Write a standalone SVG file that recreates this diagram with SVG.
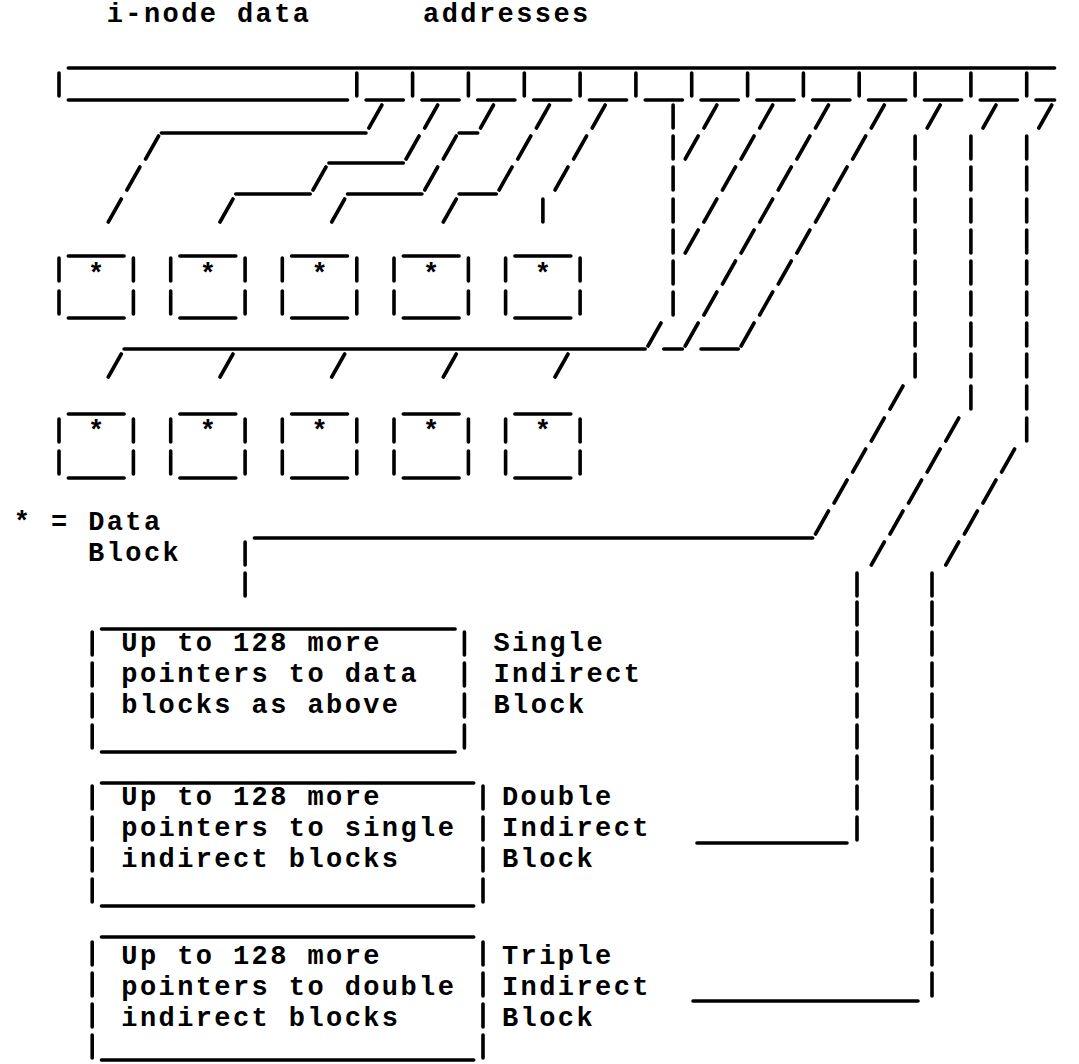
<svg xmlns="http://www.w3.org/2000/svg" width="1079" height="1064" viewBox="0 0 1079 1064">
<style>
.ln{stroke:#000;stroke-width:3.6;stroke-linecap:round;fill:none}
.t{font-family:"Liberation Mono","DejaVu Sans Mono",monospace;font-weight:bold;font-size:27px;letter-spacing:2.41px;fill:#000}
.s{font-family:"Liberation Mono","DejaVu Sans Mono",monospace;font-weight:bold;font-size:27px;fill:#000;text-anchor:middle}
</style>
<rect width="1079" height="1064" fill="#fff"/>
<g id="title">
<text class="t" x="106.7" y="22">i-node data</text>
<text class="t" x="423.1" y="22">addresses</text>
</g>
<g id="inode-table">
<path class="ln" d="M68.3,68H1054.6 M59,73v23 M68.3,100H347.5 M356.8,73v23 M366.1,100H403.3 M412.6,73v23 M421.9,100H459.1 M468.4,73v23 M477.7,100H514.9 M524.3,73v23 M533.6,100H570.8 M580.1,73v23 M589.4,100H626.6 M635.9,73v23 M645.2,100H682.4 M691.7,73v23 M701,100H738.3 M747.6,73v23 M756.9,100H794.1 M803.4,73v23 M812.7,100H849.9 M859.2,73v23 M868.5,100H905.8 M915.1,73v23 M924.4,100H961.6 M970.9,73v23 M980.2,100H1017.4 M1026.7,73v23 M1036,100H1054.6"/>
</g>
<g id="blocks-row1">
<g id="block1a"><path class="ln" d="M68.3,256H124.1 M59,258v23 M59,291v23 M133.4,258v23 M133.4,291v23 M68.3,318H124.1"/><text class="s" x="96.2" y="282">*</text></g>
<g id="block2a"><path class="ln" d="M179.9,256H235.8 M170.7,258v23 M170.7,291v23 M245.1,258v23 M245.1,291v23 M179.9,318H235.8"/><text class="s" x="207.9" y="282">*</text></g>
<g id="block3a"><path class="ln" d="M291.6,256H347.5 M282.3,258v23 M282.3,291v23 M356.8,258v23 M356.8,291v23 M291.6,318H347.5"/><text class="s" x="319.5" y="282">*</text></g>
<g id="block4a"><path class="ln" d="M403.3,256H459.1 M394,258v23 M394,291v23 M468.4,258v23 M468.4,291v23 M403.3,318H459.1"/><text class="s" x="431.2" y="282">*</text></g>
<g id="block5a"><path class="ln" d="M514.9,256H570.8 M505.6,258v23 M505.6,291v23 M580.1,258v23 M580.1,291v23 M514.9,318H570.8"/><text class="s" x="542.9" y="282">*</text></g>
</g>
<g id="blocks-row2">
<g id="block1b"><path class="ln" d="M68.3,414H124.1 M59,419v23 M59,451v23 M133.4,419v23 M133.4,451v23 M68.3,478H124.1"/><text class="s" x="96.2" y="439">*</text></g>
<g id="block2b"><path class="ln" d="M179.9,414H235.8 M170.7,419v23 M170.7,451v23 M245.1,419v23 M245.1,451v23 M179.9,478H235.8"/><text class="s" x="207.9" y="439">*</text></g>
<g id="block3b"><path class="ln" d="M291.6,414H347.5 M282.3,419v23 M282.3,451v23 M356.8,419v23 M356.8,451v23 M291.6,478H347.5"/><text class="s" x="319.5" y="439">*</text></g>
<g id="block4b"><path class="ln" d="M403.3,414H459.1 M394,419v23 M394,451v23 M468.4,419v23 M468.4,451v23 M403.3,478H459.1"/><text class="s" x="431.2" y="439">*</text></g>
<g id="block5b"><path class="ln" d="M514.9,414H570.8 M505.6,419v23 M505.6,451v23 M580.1,419v23 M580.1,451v23 M514.9,478H570.8"/><text class="s" x="542.9" y="439">*</text></g>
</g>
<g id="legend">
<text class="t" x="13.7" y="530">* = Data</text>
<text class="t" x="88.1" y="561">Block</text>
</g>
<g id="single-indirect">
<path class="ln" d="M101.5,629H455.1 M92.2,632v23 M92.2,663v23 M92.2,694v23 M92.2,725v23 M464.4,632v23 M464.4,663v23 M464.4,694v23 M464.4,725v23 M101.5,752H455.1"/>
<text class="t" x="121.3" y="651">Up to 128 more</text>
<text class="t" x="121.3" y="682">pointers to data</text>
<text class="t" x="121.3" y="713">blocks as above</text>
<text class="t" x="493.5" y="651">Single</text>
<text class="t" x="493.5" y="682">Indirect</text>
<text class="t" x="493.5" y="713">Block</text>
</g>
<g id="double-indirect">
<path class="ln" d="M101.5,783H473.7 M92.2,786v23 M92.2,817v23 M92.2,848v23 M92.2,879v23 M483,786v23 M483,817v23 M483,848v23 M483,879v23 M101.5,906H473.7"/>
<text class="t" x="121.3" y="805">Up to 128 more</text>
<text class="t" x="121.3" y="836">pointers to single</text>
<text class="t" x="121.3" y="867">indirect blocks</text>
<text class="t" x="502" y="805">Double</text>
<text class="t" x="502" y="836">Indirect</text>
<text class="t" x="502" y="867">Block</text>
</g>
<g id="triple-indirect">
<path class="ln" d="M101.5,937H473.7 M92.2,942v23 M92.2,973v23 M92.2,1004v23 M92.2,1035v23 M483,942v23 M483,973v23 M483,1004v23 M483,1035v23 M101.5,1060H473.7"/>
<text class="t" x="121.3" y="964">Up to 128 more</text>
<text class="t" x="121.3" y="995">pointers to double</text>
<text class="t" x="121.3" y="1026">indirect blocks</text>
<text class="t" x="502" y="964">Triple</text>
<text class="t" x="502" y="995">Indirect</text>
<text class="t" x="502" y="1026">Block</text>
</g>
<g id="connectors">
<path class="ln" d="M381.9,105l-13,23 M161.4,133H366 M158.6,136l-13,23 M139.9,167l-13,23 M121.3,199l-13,23"/>
<path class="ln" d="M437.7,105l-13,23 M419.1,136l-13,23 M328.9,163H403.3 M326,167l-13,23 M235.8,194H310.2 M233,199l-13,23"/>
<path class="ln" d="M493.5,105l-13,23 M459.1,133H477.7 M456.3,136l-13,23 M437.7,167l-13,23 M347.5,194H421.9 M344.7,199l-13,23"/>
<path class="ln" d="M549.4,105l-13,23 M530.8,136l-13,23 M512.1,167l-13,23 M459.1,194H496.3 M456.3,199l-13,23"/>
<path class="ln" d="M605.2,105l-13,23 M586.6,136l-13,23 M568,167l-13,23 M542.9,199v23"/>
<path class="ln" d="M673.1,105v23 M673.1,136v23 M673.1,167v23 M673.1,199v23 M673.1,230v23 M673.1,261v23 M673.1,292v23 M661,323l-13,23 M124.1,349H645.2 M121.3,354l-13,23 M233,354l-13,23 M344.7,354l-13,23 M456.3,354l-13,23 M568,354l-13,23"/>
<path class="ln" d="M716.9,105l-13,23 M698.2,136l-13,23"/>
<path class="ln" d="M772.7,105l-13,23 M754.1,136l-13,23 M735.5,167l-13,23 M716.9,199l-13,23 M698.2,230l-13,23"/>
<path class="ln" d="M828.5,105l-13,23 M809.9,136l-13,23 M791.3,167l-13,23 M772.7,199l-13,23 M754.1,230l-13,23 M735.5,261l-13,23 M716.9,292l-13,23 M698.2,323l-13,23 M663.8,349H682.4"/>
<path class="ln" d="M884.3,105l-13,23 M865.7,136l-13,23 M847.1,167l-13,23 M828.5,199l-13,23 M809.9,230l-13,23 M791.3,261l-13,23 M772.7,292l-13,23 M754.1,323l-13,23 M701,349H738.3"/>
<path class="ln" d="M940.2,105l-13,23 M915.1,136v23 M915.1,167v23 M915.1,199v23 M915.1,230v23 M915.1,261v23 M915.1,292v23 M915.1,323v23 M915.1,354v23 M903,386l-13,23 M884.3,418l-13,23 M865.7,449l-13,23 M847.1,480l-13,23 M828.5,511l-13,23 M254.4,538H812.7 M245.1,542v23 M245.1,573v23"/>
<path class="ln" d="M996,105l-13,23 M970.9,136v23 M970.9,167v23 M970.9,199v23 M970.9,230v23 M970.9,261v23 M970.9,292v23 M970.9,323v23 M970.9,354v23 M970.9,386v23 M958.8,418l-13,23 M940.2,449l-13,23 M921.6,480l-13,23 M903,511l-13,23 M884.3,542l-13,23 M857,573v23 M857,602v23 M857,632v23 M857,663v23 M857,694v23 M857,725v23 M857,756v23 M857,786v23 M857,817v23 M697,843H847"/>
<path class="ln" d="M1051.8,105l-13,23 M1026.7,136v23 M1026.7,167v23 M1026.7,199v23 M1026.7,230v23 M1026.7,261v23 M1026.7,292v23 M1026.7,323v23 M1026.7,354v23 M1026.7,386v23 M1026.7,418v23 M1014.6,449l-13,23 M996,480l-13,23 M977.4,511l-13,23 M958.8,542l-13,23 M932,573v23 M932,602v23 M932,632v23 M932,663v23 M932,694v23 M932,725v23 M932,756v23 M932,786v23 M932,817v23 M932,848v23 M932,879v23 M932,910v23 M932,942v23 M932,973v23 M693,1001H918"/>
</g>
</svg>
